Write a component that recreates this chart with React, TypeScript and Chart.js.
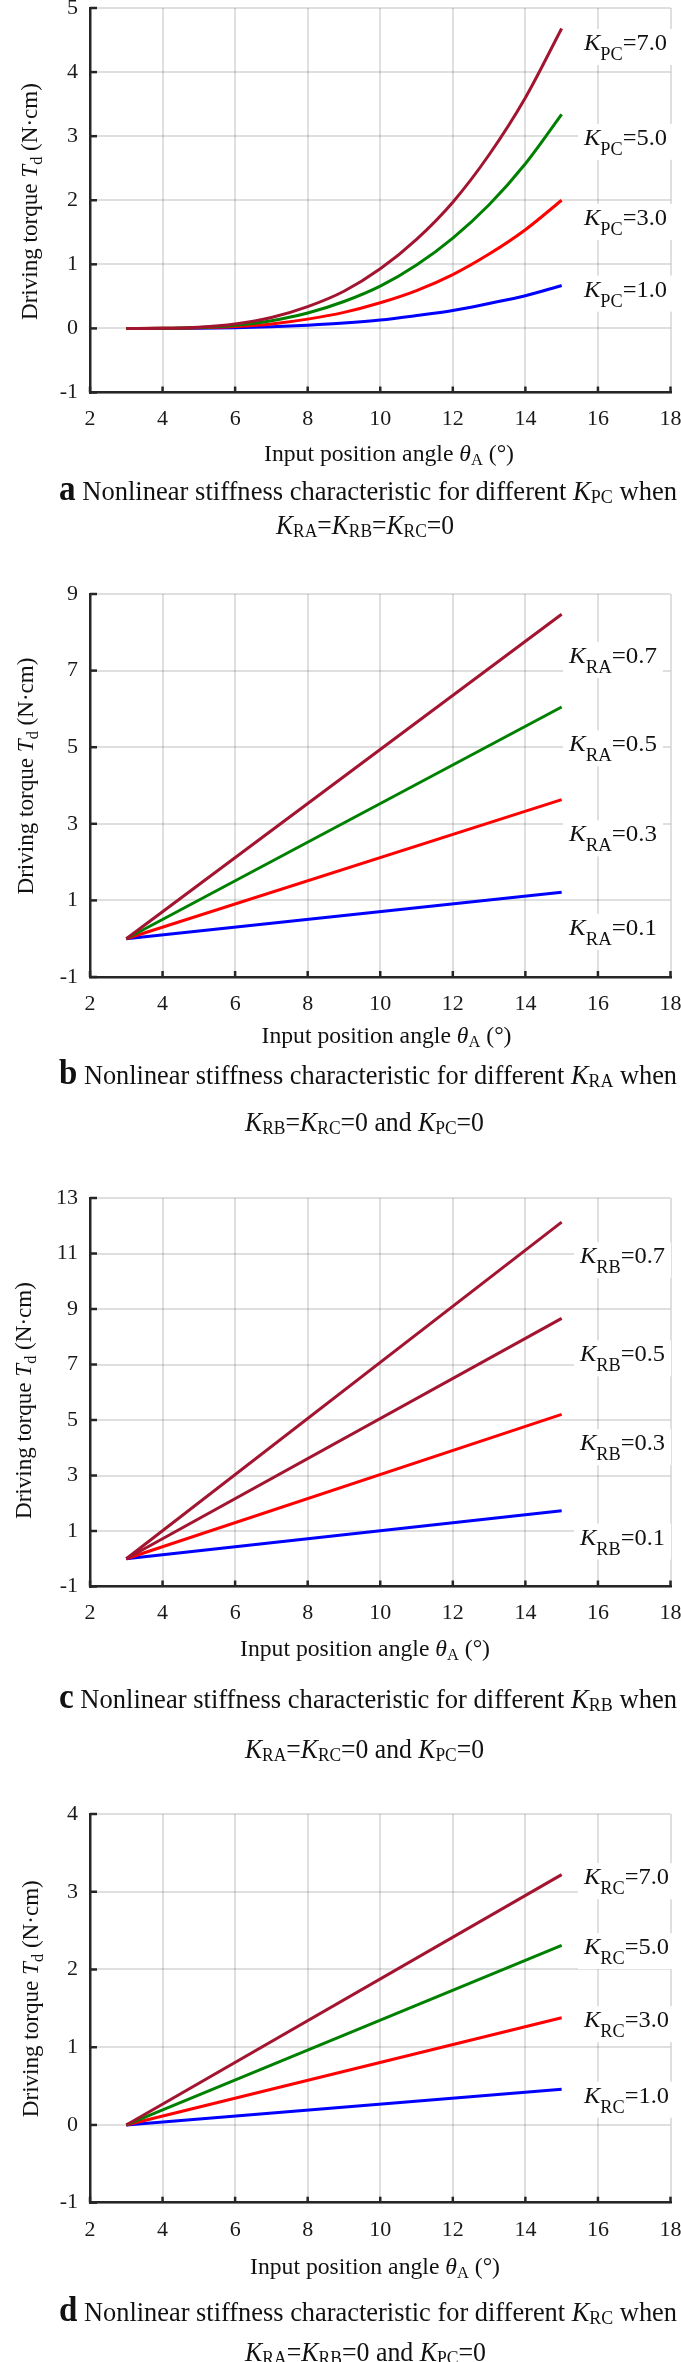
import React, { useEffect, useRef } from "react";
import { Chart, registerables } from "chart.js";
Chart.register(...registerables);

const SERIF = '"Liberation Serif", "Times New Roman", Times, serif';
const AXIS = "#262626";
const GRID = "rgba(38,38,38,0.15)";
const TEXT = "#111111";
const MAROON = "rgb(162,20,47)";
const GREEN = "rgb(0,128,0)";
const RED = "rgb(255,0,0)";
const BLUE = "rgb(0,0,255)";

const xTicks = [2, 4, 6, 8, 10, 12, 14, 16, 18];

// (a) K_PC
const xA = [3, 4, 5, 6, 7, 8, 9, 10, 11, 12, 13, 14, 15];
const aKpc7 = [0, 0.003, 0.02, 0.07, 0.17, 0.34, 0.58, 0.93, 1.39, 1.97, 2.71, 3.6, 4.68];
const aKpc5 = [0, 0.002, 0.015, 0.05, 0.12, 0.24, 0.42, 0.66, 0.99, 1.41, 1.93, 2.57, 3.34];
const aKpc3 = [0, 0.001, 0.009, 0.03, 0.07, 0.145, 0.25, 0.4, 0.59, 0.84, 1.16, 1.54, 2.0];
const aKpc1 = [0, 0, 0.003, 0.01, 0.025, 0.05, 0.083, 0.13, 0.2, 0.28, 0.39, 0.51, 0.67];
const aYTicks = [-1, 0, 1, 2, 3, 4, 5];
const aLabels = ["7.0", "5.0", "3.0", "1.0"];
const aLabelAt = [4.47, 2.99, 1.74, 0.62];

// (b) K_RA
const xLin = [3, 15];
const bKra07 = [0, 8.47];
const bKra05 = [0, 6.05];
const bKra03 = [0, 3.63];
const bKra01 = [0, 1.21];
const bYTicks = [-1, 1, 3, 5, 7, 9];
const bLabels = ["0.7", "0.5", "0.3", "0.1"];
const bLabelAt = [7.41, 5.1, 2.75, 0.31];

// (c) K_RB
const cKrb07 = [0, 12.13];
const cKrb05 = [0, 8.66];
const cKrb03 = [0, 5.2];
const cKrb01 = [0, 1.73];
const cYTicks = [-1, 1, 3, 5, 7, 9, 11, 13];
const cLabels = ["0.7", "0.5", "0.3", "0.1"];
const cLabelAt = [10.94, 7.4, 4.2, 0.8];

// (d) K_RC
const dKrc7 = [0, 3.22];
const dKrc5 = [0, 2.31];
const dKrc3 = [0, 1.38];
const dKrc1 = [0, 0.46];
const dYTicks = [-1, 0, 1, 2, 3, 4];
const dLabels = ["7.0", "5.0", "3.0", "1.0"];
const dLabelAt = [3.2, 2.3, 1.36, 0.39];

type Part = { t: string; size: number; italic?: boolean; bold?: boolean; dy?: number };

function fontOf(p: Part) {
  return `${p.italic ? "italic " : ""}${p.bold ? "bold " : ""}${p.size}px ${SERIF}`;
}
function richWidth(ctx: CanvasRenderingContext2D, parts: Part[]) {
  let w = 0;
  for (const p of parts) {
    ctx.font = fontOf(p);
    w += ctx.measureText(p.t).width;
  }
  return w;
}
// draws rich text; x is left edge or centre; optional target width squeezes horizontally
function drawRich(
  ctx: CanvasRenderingContext2D,
  parts: Part[],
  x: number,
  y: number,
  align: "left" | "center",
  targetW?: number
) {
  const w = richWidth(ctx, parts);
  const sx = targetW ? targetW / w : 1;
  ctx.save();
  ctx.translate(x, y);
  ctx.scale(sx, 1);
  let cx = align === "center" ? -w / 2 : 0;
  ctx.textAlign = "left";
  ctx.textBaseline = "alphabetic";
  for (const p of parts) {
    ctx.font = fontOf(p);
    ctx.fillText(p.t, cx, p.dy || 0);
    cx += ctx.measureText(p.t).width;
  }
  ctx.restore();
  return w * sx;
}

const TOP_PAD = 20;
const X_AXIS_H = 90;

type PanelCfg = {
  key: string;
  yMin: number;
  yMax: number;
  yTicks: number[];
  xs: number[];
  series: number[][];
  colors: string[];
  curved: boolean;
  sub: string;
  labels: string[];
  labelAt: number[];
  plotTop: number;
  plotBottom: number;
  yTitleX: number;
  yTitleY: number;
  xTitleX: number;
  xTitleY: number;
  labelLeft: number;
  labelW: number;
  cap1Y: number;
  cap2Y: number;
  cap2X: number;
  cap2W: number;
  cap2: Part[];
};

const CAP = 28;
const CAPSUB = 19;
const Kp = (s: string): Part[] => [
  { t: "K", size: CAP, italic: true },
  { t: s, size: CAPSUB, dy: 3 },
];

const panels: PanelCfg[] = [
  {
    key: "a", yMin: -1, yMax: 5, yTicks: aYTicks, xs: xA,
    series: [aKpc7, aKpc5, aKpc3, aKpc1], colors: [MAROON, GREEN, RED, BLUE], curved: true,
    sub: "PC", labels: aLabels, labelAt: aLabelAt,
    plotTop: 7.5, plotBottom: 392, yTitleX: 31, yTitleY: 201, xTitleX: 389, xTitleY: 452.5,
    labelLeft: 584, labelW: 83, cap1Y: 490, cap2Y: 524, cap2X: 365, cap2W: 178,
    cap2: [...Kp("RA"), { t: "=", size: CAP }, ...Kp("RB"), { t: "=", size: CAP }, ...Kp("RC"), { t: "=0", size: CAP }],
  },
  {
    key: "b", yMin: -1, yMax: 9, yTicks: bYTicks, xs: xLin,
    series: [bKra07, bKra05, bKra03, bKra01], colors: [MAROON, GREEN, RED, BLUE], curved: false,
    sub: "RA", labels: bLabels, labelAt: bLabelAt,
    plotTop: 594, plotBottom: 977, yTitleX: 27, yTitleY: 776, xTitleX: 386.5, xTitleY: 1035,
    labelLeft: 569, labelW: 88, cap1Y: 1075, cap2Y: 1122, cap2X: 364.5, cap2W: 239,
    cap2: [...Kp("RB"), { t: "=", size: CAP }, ...Kp("RC"), { t: "=0 and ", size: CAP }, ...Kp("PC"), { t: "=0", size: CAP }],
  },
  {
    key: "c", yMin: -1, yMax: 13, yTicks: cYTicks, xs: xLin,
    series: [cKrb07, cKrb05, cKrb03, cKrb01], colors: [MAROON, MAROON, RED, BLUE], curved: false,
    sub: "RB", labels: cLabels, labelAt: cLabelAt,
    plotTop: 1197.5, plotBottom: 1586, yTitleX: 25, yTitleY: 1400, xTitleX: 365, xTitleY: 1648,
    labelLeft: 580, labelW: 85, cap1Y: 1698, cap2Y: 1748, cap2X: 364.5, cap2W: 239,
    cap2: [...Kp("RA"), { t: "=", size: CAP }, ...Kp("RC"), { t: "=0 and ", size: CAP }, ...Kp("PC"), { t: "=0", size: CAP }],
  },
  {
    key: "d", yMin: -1, yMax: 4, yTicks: dYTicks, xs: xLin,
    series: [dKrc7, dKrc5, dKrc3, dKrc1], colors: [MAROON, GREEN, RED, BLUE], curved: false,
    sub: "RC", labels: dLabels, labelAt: dLabelAt,
    plotTop: 1814.3, plotBottom: 2203, yTitleX: 32, yTitleY: 1999, xTitleX: 375, xTitleY: 2267,
    labelLeft: 584, labelW: 85, cap1Y: 2312, cap2Y: 2352, cap2X: 365.5, cap2W: 241,
    cap2: [...Kp("RA"), { t: "=", size: CAP }, ...Kp("RB"), { t: "=0 and ", size: CAP }, ...Kp("PC"), { t: "=0", size: CAP }],
  },
];

function Panel({ cfg }: { cfg: PanelCfg }) {
  const ref = useRef<HTMLCanvasElement | null>(null);
  const canvasTop = cfg.plotTop - TOP_PAD;
  const H = Math.round(cfg.cap2Y + 22 - canvasTop);
  const padBottom = H - (cfg.plotBottom - canvasTop) - X_AXIS_H;

  useEffect(() => {
    const canvas = ref.current;
    if (!canvas) return;

    const decor = {
      id: "decor" + cfg.key,
      afterDraw(chart: any) {
        const ctx: CanvasRenderingContext2D = chart.ctx;
        const { left, bottom } = chart.chartArea;
        const xs = chart.scales.x;
        const ys = chart.scales.y;
        ctx.save();
        // inward tick marks
        ctx.strokeStyle = AXIS;
        ctx.lineWidth = 2.5;
        for (const t of ys.ticks) {
          const py = ys.getPixelForValue(t.value);
          ctx.beginPath();
          ctx.moveTo(left, py);
          ctx.lineTo(left + 7, py);
          ctx.stroke();
        }
        for (const t of xs.ticks) {
          const px = xs.getPixelForValue(t.value);
          ctx.beginPath();
          ctx.moveTo(px, bottom);
          ctx.lineTo(px, bottom - 6);
          ctx.stroke();
        }
        // curve labels (white box behind, like the original)
        cfg.labels.forEach((lab, i) => {
          const parts: Part[] = [
            { t: "K", size: 24, italic: true },
            { t: cfg.sub, size: 18, dy: 10 },
            { t: "=" + lab, size: 24 },
          ];
          const base = ys.getPixelForValue(cfg.labelAt[i]) + 8;
          ctx.fillStyle = "#ffffff";
          ctx.fillRect(cfg.labelLeft - 6, base - 21, cfg.labelW + 12, 36);
          ctx.fillStyle = TEXT;
          drawRich(ctx, parts, cfg.labelLeft, base, "left", cfg.labelW);
        });
        ctx.fillStyle = TEXT;
        // x title
        drawRich(
          ctx,
          [
            { t: "Input position angle ", size: 23 },
            { t: "θ", size: 23, italic: true },
            { t: "A", size: 16, dy: 4 },
            { t: " (°)", size: 23 },
          ],
          cfg.xTitleX,
          cfg.xTitleY - canvasTop + 7.5,
          "center",
          250
        );
        // captions
        drawRich(
          ctx,
          [
            { t: cfg.key, size: 35, bold: true },
            { t: " Nonlinear stiffness characteristic for different ", size: CAP },
            ...Kp(cfg.sub),
            { t: " when", size: CAP },
          ],
          368,
          cfg.cap1Y - canvasTop + 9,
          "center",
          618
        );
        drawRich(ctx, cfg.cap2, cfg.cap2X, cfg.cap2Y - canvasTop + 9, "center", cfg.cap2W);
        // y title (rotated)
        ctx.translate(cfg.yTitleX, cfg.yTitleY - canvasTop);
        ctx.rotate(-Math.PI / 2);
        drawRich(
          ctx,
          [
            { t: "Driving torque ", size: 24 },
            { t: "T", size: 24, italic: true },
            { t: "d", size: 17, dy: 5 },
            { t: " (N·cm)", size: 24 },
          ],
          0,
          6,
          "center",
          237
        );
        ctx.restore();
      },
    };

    const datasets = cfg.series.map((vals, i) => ({
      data: cfg.xs.map((x, j) => ({ x, y: vals[j] })),
      borderColor: cfg.colors[i],
      backgroundColor: cfg.colors[i],
      borderWidth: 3,
      pointRadius: 0,
      fill: false,
      tension: 0,
      cubicInterpolationMode: cfg.curved ? "monotone" : "default",
    }));

    const tickFont = { family: SERIF, size: 22 };

    const chart = new Chart(canvas, {
      type: "line",
      data: { datasets: datasets as any },
      options: {
        responsive: false,
        animation: false,
        events: [],
        layout: { padding: { top: TOP_PAD, right: 10.5, left: 0, bottom: padBottom } },
        plugins: { legend: { display: false }, tooltip: { enabled: false } },
        scales: {
          x: {
            type: "linear",
            min: 2,
            max: 18,
            afterBuildTicks: (s: any) => {
              s.ticks = xTicks.map((v) => ({ value: v }));
            },
            afterFit: (s: any) => {
              s.height = X_AXIS_H;
              s.paddingLeft = 0;
              s.paddingRight = 0;
            },
            ticks: { font: tickFont, color: "#1a1a1a", padding: 14, maxRotation: 0, autoSkip: false },
            grid: { color: GRID, lineWidth: 2, drawTicks: false },
            border: { color: AXIS, width: 2.5 },
          },
          y: {
            type: "linear",
            min: cfg.yMin,
            max: cfg.yMax,
            afterBuildTicks: (s: any) => {
              s.ticks = cfg.yTicks.map((v) => ({ value: v }));
            },
            afterFit: (s: any) => {
              s.width = 90;
              s.paddingTop = 0;
              s.paddingBottom = 0;
            },
            ticks: { font: tickFont, color: "#1a1a1a", padding: 12, autoSkip: false },
            grid: { color: GRID, lineWidth: 2, drawTicks: false },
            border: { color: AXIS, width: 2.5 },
          },
        },
      } as any,
      plugins: [decor],
    });
    return () => chart.destroy();
  }, [cfg]);

  return (
    <canvas
      ref={ref}
      width={681}
      height={H}
      style={{ position: "absolute", left: 0, top: canvasTop, width: 681, height: H }}
    />
  );
}

export default function App() {
  return (
    <div
      style={{
        position: "absolute",
        left: 0,
        top: 0,
        width: 681,
        height: 2362,
        overflow: "hidden",
        background: "#fff",
      }}
    >
      {panels.map((p) => (
        <Panel key={p.key} cfg={p} />
      ))}
    </div>
  );
}
